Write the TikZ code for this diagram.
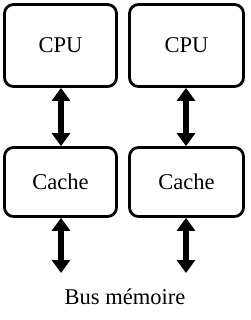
\documentclass[tikz,border=0pt]{standalone}
\usepackage{fontspec}
\setmainfont{Liberation Serif}
\usetikzlibrary{arrows.meta}
\begin{document}
\begin{tikzpicture}[x=1pt,y=1pt,
  unit/.style={draw,line width=2.8pt,rounded corners=9pt,minimum width=112pt,inner sep=0pt,font=\fontsize{22.5}{26}\selectfont},
  bus/.style={line width=6pt,{Triangle[width=18pt,length=13pt]}-{Triangle[width=18pt,length=13pt]}}]
\useasboundingbox (0,0) rectangle (250,-320);
\node[unit,minimum height=82pt] (cpu1) at (60.5,-45.5) {CPU};
\node[unit,minimum height=82pt,minimum width=114pt] (cpu2) at (186.5,-45.5) {CPU};
\node[unit,minimum height=69pt] (cache1) at (60.5,-182) {Cache};
\node[unit,minimum height=69pt,minimum width=114pt] (cache2) at (186.5,-182) {Cache};
\coordinate (m1) at (61,-273);
\coordinate (m2) at (186,-273);
\node[font=\fontsize{22.5}{26}\selectfont] (mem) at (125,-297) {Bus mémoire};
\draw[bus] (cpu1.south -| m1) -- (cache1.north -| m1);
\draw[bus] (cpu2.south -| m2) -- (cache2.north -| m2);
\draw[bus] (cache1.south -| m1) -- (m1);
\draw[bus] (cache2.south -| m2) -- (m2);
\end{tikzpicture}
\end{document}
